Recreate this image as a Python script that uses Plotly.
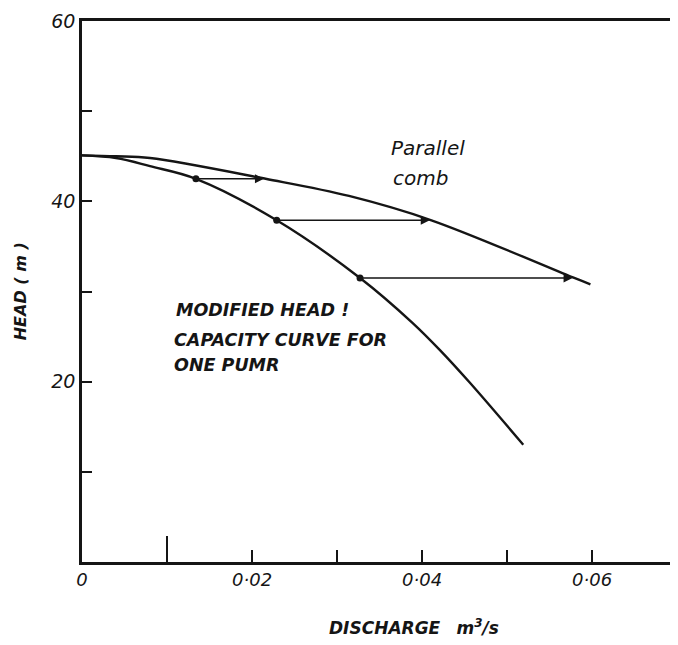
import plotly.graph_objects as go

# Data
single_q = [0.0, 0.004, 0.008, 0.0134, 0.0229, 0.0327, 0.0389, 0.0421, 0.0456, 0.0519]
single_h = [45.1, 44.8, 43.9, 42.5, 37.9, 31.5, 26.5, 23.5, 19.9, 13.0]

parallel_q = [0.0, 0.004, 0.008, 0.0216, 0.0314, 0.0411, 0.0579, 0.0598]
parallel_h = [45.1, 45.0, 44.8, 42.5, 40.6, 37.9, 31.5, 30.8]

arrow_start_q = [0.0134, 0.0229, 0.0327]
arrow_start_h = [42.5, 37.9, 31.5]
arrow_end_q = [0.0214, 0.0409, 0.0577]

x_label_vals = [0, 0.02, 0.04, 0.06]
x_label_text = ["<i>0</i>", "<i>0·02</i>", "<i>0·04</i>", "<i>0·06</i>"]
x_short_ticks = [0.03, 0.05]
x_long_tick = [0.01]
y_label_vals = [20, 40, 60]
y_label_text = ["<i>20</i>", "<i>40</i>", "<i>60</i>"]
y_minor_ticks = [10, 30, 50]

INK = "#151515"
FONT = "DejaVu Sans"
X_RANGE = [0, 0.0701]
Y_RANGE = [0, 60]

fig = go.Figure()
fig.add_trace(go.Scatter(x=single_q, y=single_h, mode="lines", line=dict(color=INK, width=2.4, shape="spline"),
                         hoverinfo="skip", showlegend=False))
fig.add_trace(go.Scatter(x=parallel_q, y=parallel_h, mode="lines", line=dict(color=INK, width=2.4, shape="spline"),
                         hoverinfo="skip", showlegend=False))
# operating-point dots (drawn on the overlay x axis that carries the long 0.01 tick; same range)
fig.add_trace(go.Scatter(x=arrow_start_q, y=arrow_start_h, mode="markers", xaxis="x2",
                         marker=dict(color=INK, size=7), hoverinfo="skip", showlegend=False))

for qs, h, qe in zip(arrow_start_q, arrow_start_h, arrow_end_q):
    fig.add_annotation(x=qe, y=h, ax=qs, ay=h, xref="x", yref="y", axref="x", ayref="y",
                       showarrow=True, arrowhead=2, arrowsize=1.2, arrowwidth=1.5, arrowcolor=INK, text="")

# text labels
fig.add_annotation(x=0.0361, y=45.9, xref="x", yref="y", showarrow=False, xanchor="left",
                   text="<i>Parallel</i>", font=dict(family=FONT, size=20, color=INK))
fig.add_annotation(x=0.0363, y=42.6, xref="x", yref="y", showarrow=False, xanchor="left",
                   text="<i>comb</i>", font=dict(family=FONT, size=20, color=INK))
for txt, q, h in [("MODIFIED HEAD !", 0.0108, 27.9),
                  ("CAPACITY CURVE FOR", 0.0106, 24.6),
                  ("ONE PUMR", 0.0106, 21.8)]:
    fig.add_annotation(x=q, y=h, xref="x", yref="y", showarrow=False, xanchor="left",
                       text=f"<i><b>{txt}</b></i>", font=dict(family=FONT, size=17.5, color=INK))

# axis titles
fig.add_annotation(x=0.0390, y=-0.12, xref="x", yref="paper", showarrow=False, yanchor="middle",
                   text="<i><b>DISCHARGE</b></i>   <i><b>m<sup>3</sup>/s</b></i>",
                   font=dict(family=FONT, size=17, color=INK))
fig.add_annotation(x=-0.122, y=0.50, xref="paper", yref="paper", showarrow=False, textangle=-90,
                   text="<i><b>HEAD ( m )</b></i>", font=dict(family=FONT, size=16, color=INK))

tick_common = dict(ticks="inside", tickwidth=2, tickcolor=INK, showgrid=False, zeroline=False)

fig.update_layout(
    width=670, height=629,
    margin=dict(l=74, r=0, t=13, b=75),
    paper_bgcolor="white", plot_bgcolor="white",
    font=dict(family=FONT, color=INK),
    xaxis=dict(range=X_RANGE, tickvals=x_label_vals, ticktext=x_label_text, ticklen=12,
               showline=True, linewidth=2.5, linecolor=INK, mirror=True,
               minor=dict(tickmode="array", tickvals=x_short_ticks, ticks="inside", ticklen=12,
                          tickwidth=2, tickcolor=INK, showgrid=False),
               tickfont=dict(size=18, family=FONT), **tick_common),
    xaxis2=dict(range=X_RANGE, overlaying="x", anchor="y", side="bottom", tickvals=x_long_tick,
                ticklen=26, showticklabels=False, showline=False, **tick_common),
    yaxis=dict(range=Y_RANGE, tickvals=y_label_vals, ticktext=y_label_text, ticklen=10,
               showline=True, linewidth=2.5, linecolor=INK,
               minor=dict(tickmode="array", tickvals=y_minor_ticks, ticks="inside", ticklen=10,
                          tickwidth=2, tickcolor=INK, showgrid=False),
               tickfont=dict(size=19, family=FONT), **tick_common),
)

fig.write_html("out.html", config={"responsive": False})
